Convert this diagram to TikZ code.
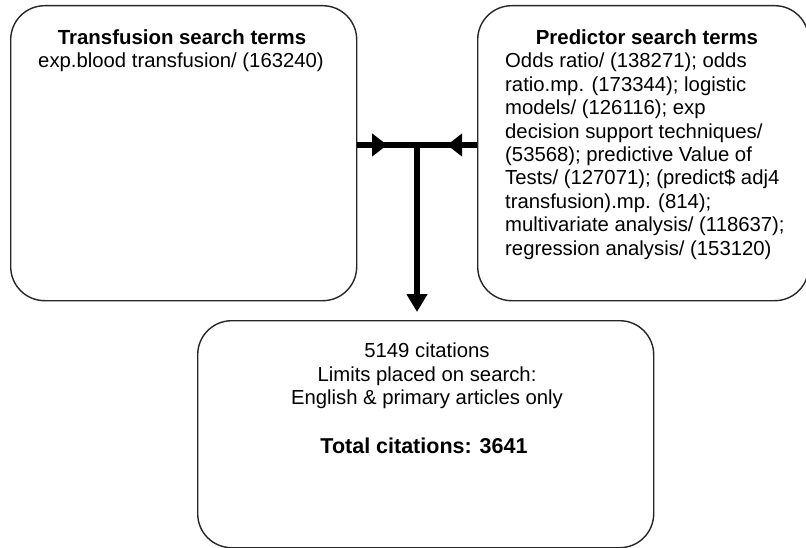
\documentclass[tikz,border=0pt]{standalone}
\usepackage{fontspec}
\setmainfont{Liberation Sans}
\usetikzlibrary{arrows.meta,decorations.markings}

\tikzset{
  termbox/.style={draw=black!85, line width=1.4pt, rounded corners=34pt,
    inner sep=0pt, anchor=north west},
  bodytext/.style={inner sep=0pt, font=\fontsize{20.3}{23.4}\selectfont},
  headtext/.style={inner sep=0pt, font=\fontsize{20.4}{23.4}\selectfont\bfseries},
  flow/.style={line width=6pt},
  midarrow/.style={postaction={decorate, decoration={markings,
    mark=at position 0.5 with {\arrow{Triangle[length=15pt,width=22pt]}}}}},
}

\begin{document}
\begin{tikzpicture}[x=1pt,y=-1pt]
  \useasboundingbox (0,0) rectangle (806,548);

  % search-term boxes and the result box
  \node[termbox, minimum width=346pt, minimum height=295pt] (L) at (10,5) {};
  \node[termbox, minimum width=331pt, minimum height=295pt] (R) at (477,5) {};
  \node[termbox, minimum width=456pt, minimum height=227pt] (B) at (197,320) {};

  % left box text
  \node[headtext, anchor=base] (Lhead) at (182,45) {Transfusion search terms};
  \node[bodytext, anchor=base] (Lbody) at (181,68) {exp.blood transfusion/ (163240)};

  % right box text (a multi-line node's base is its last line)
  \node[headtext, anchor=base] (Rhead) at (647,45) {Predictor search terms};
  \node[bodytext, anchor=base west, align=left] (Rbody) at (505,255.2)
    {Odds ratio/ (138271); odds\\
     ratio.mp. (173344); logistic\\
     models/ (126116); exp\\
     decision support techniques/\\
     (53568); predictive Value of\\
     Tests/ (127071); (predict\$ adj4\\
     transfusion).mp. (814);\\
     multivariate analysis/ (118637);\\
     regression analysis/ (153120)};

  % result box text
  \node[bodytext, anchor=base, align=center] (Bbody) at (427,404.5)
    {5149 citations\\
     Limits placed on search:\\
     English \& primary articles only};
  \node[headtext, font=\fontsize{21.5}{25}\selectfont\bfseries, anchor=base] (Btotal) at (424,453)
    {Total citations: 3641};

  % joining arrows
  \coordinate (J) at (417,145);
  \draw[flow, midarrow] (L.east |- J) -- (J);
  \draw[flow, midarrow] (R.west |- J) -- (J);
  \draw[flow, -{Triangle[length=18pt,width=20pt]}, shorten >=8pt] (J) -- (J |- B.north);
\end{tikzpicture}
\end{document}
